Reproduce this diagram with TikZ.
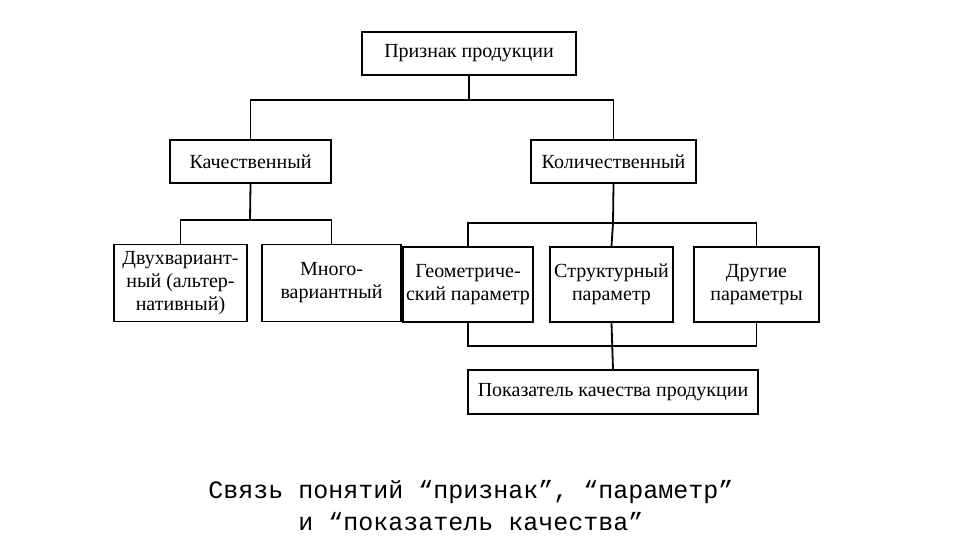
\documentclass[tikz,border=0pt]{standalone}
\usepackage{fontspec}
\setmainfont{Liberation Serif}
\newfontfamily\capfont{Liberation Mono}
\begin{document}
\begin{tikzpicture}[x=1pt,y=-1pt,
  bx/.style={draw,line width=1.8pt,align=center,inner sep=0pt,font=\fontsize{20}{23}\selectfont},
  ln/.style={line width=1.8pt}]
\useasboundingbox (0,0) rectangle (958,556);
\node[bx,minimum width=214,minimum height=43] (top) at (469,53.5) {Признак продукции};
\node[bx,minimum width=161,minimum height=43] (qual) at (250.5,161.5) {Качественный};
\node[bx,minimum width=165,minimum height=43] (quant) at (613.5,161.5) {Количественный};
\node[bx,minimum width=133,minimum height=77] (two) at (180.5,283) {Двухвариант-\\ный (альтер-\\нативный)};
\node[bx,minimum width=139,minimum height=77] (many) at (331.5,283) {Много-\\вариантный};
\node[bx,minimum width=130,minimum height=75] (geo) at (468,284.5) {Геометриче-\\ский параметр};
\node[bx,minimum width=123,minimum height=75] (str) at (611.5,284.5) {Структурный\\параметр};
\node[bx,minimum width=125,minimum height=75] (oth) at (756.5,284.5) {Другие\\параметры};
\node[bx,minimum width=290,minimum height=44] (ind) at (613,392) {Показатель качества продукции};
\coordinate (b1) at (469,100);
\coordinate (b2) at (250,220);
\coordinate (b3) at (613,223);
\coordinate (b4) at (613,346);
\draw[ln] (top.south) -- (b1);
\draw[ln] (qual.north) |- (b1) -| (quant.north);
\draw[ln] (qual.south) -- (b2);
\draw[ln] (two.north) |- (b2) -| (many.north);
\draw[ln] (quant.south) -- (b3);
\draw[ln] (geo.north) |- (b3) -| (oth.north);
\draw[ln] (str.north) -- (b3);
\draw[ln] (geo.south) |- (b4) -| (oth.south);
\draw[ln] (str.south) -- (ind.north);
\node[font=\capfont\fontsize{25}{32}\selectfont,align=center] (cap) at (471,506) {Связь понятий “признак”, “параметр”\\и “показатель качества”};
\end{tikzpicture}
\end{document}
